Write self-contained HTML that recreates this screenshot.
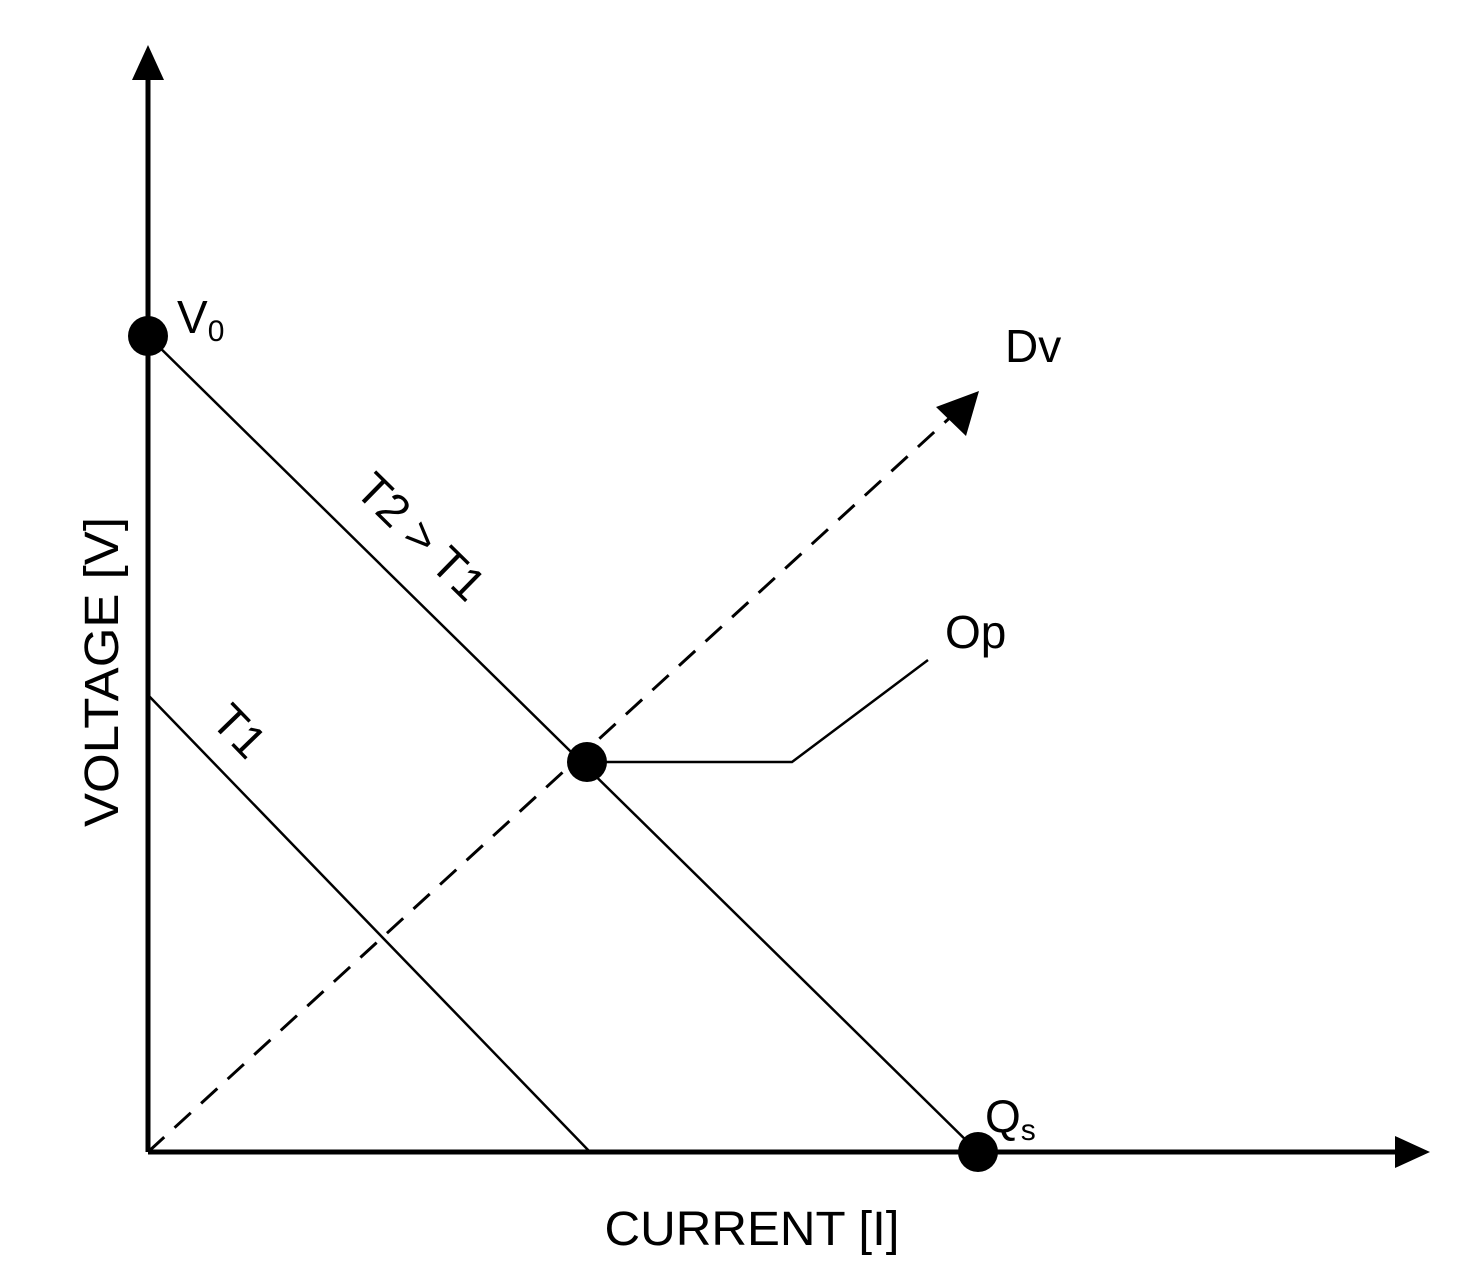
<!DOCTYPE html>
<html><head><meta charset="utf-8"><style>
html,body{margin:0;padding:0;background:#fff;}
svg{display:block;}
text{font-family:"Liberation Sans",sans-serif;fill:#000;}
</style></head><body>
<svg width="1476" height="1272" viewBox="0 0 1476 1272" xmlns="http://www.w3.org/2000/svg">
<line x1="148" y1="1152" x2="148" y2="75" stroke="#000" stroke-width="5"/>
<polygon points="148,45 132,80 164,80" fill="#000"/>
<line x1="148" y1="1152" x2="1400" y2="1152" stroke="#000" stroke-width="5"/>
<polygon points="1430,1152 1395,1136 1395,1168" fill="#000"/>
<line x1="148" y1="336" x2="978" y2="1152" stroke="#000" stroke-width="2.5"/>
<line x1="148" y1="695" x2="590" y2="1152" stroke="#000" stroke-width="2.5"/>
<line x1="148" y1="1152" x2="955" y2="413" stroke="#000" stroke-width="3" stroke-dasharray="22,14"/>
<polygon points="979,391 936,407 966,436" fill="#000"/>
<polyline points="587,762 792,762 928,660" fill="none" stroke="#000" stroke-width="2.5"/>
<circle cx="148" cy="336" r="20" fill="#000"/>
<circle cx="587" cy="762" r="20" fill="#000"/>
<circle cx="978" cy="1152" r="20" fill="#000"/>
<text x="177" y="333" font-size="46">V<tspan font-size="30" dy="8">0</tspan></text>
<text x="1005" y="362" font-size="46">Dv</text>
<text x="945" y="648" font-size="46">Op</text>
<text x="985" y="1132" font-size="46">Q<tspan font-size="30" dy="8">s</tspan></text>
<text x="0" y="0" font-size="46" text-anchor="middle" transform="translate(410,548) rotate(44.5)">T2 &gt; T1</text>
<text x="0" y="0" font-size="46" text-anchor="middle" transform="translate(228,742) rotate(46)">T1</text>
<text x="0" y="0" font-size="48" textLength="310" lengthAdjust="spacingAndGlyphs" text-anchor="middle" transform="translate(118,672) rotate(-90)">VOLTAGE [V]</text>
<text x="752" y="1245" font-size="48" textLength="295" lengthAdjust="spacingAndGlyphs" text-anchor="middle">CURRENT [I]</text>
</svg>
</body></html>
